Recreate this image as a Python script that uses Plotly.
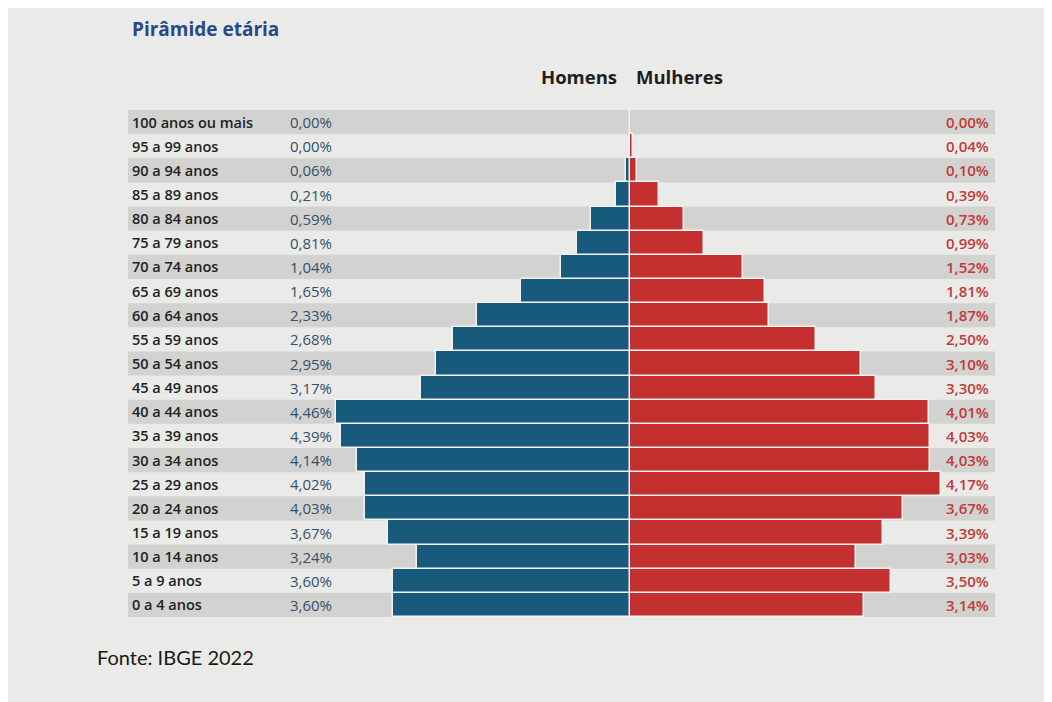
import plotly.graph_objects as go

age_groups = ["0 a 4 anos", "5 a 9 anos", "10 a 14 anos", "15 a 19 anos", "20 a 24 anos",
              "25 a 29 anos", "30 a 34 anos", "35 a 39 anos", "40 a 44 anos", "45 a 49 anos",
              "50 a 54 anos", "55 a 59 anos", "60 a 64 anos", "65 a 69 anos", "70 a 74 anos",
              "75 a 79 anos", "80 a 84 anos", "85 a 89 anos", "90 a 94 anos", "95 a 99 anos",
              "100 anos ou mais"]
homens = [3.60, 3.60, 3.24, 3.67, 4.03, 4.02, 4.14, 4.39, 4.46, 3.17,
          2.95, 2.68, 2.33, 1.65, 1.04, 0.81, 0.59, 0.21, 0.06, 0.00, 0.00]
mulheres = [3.14, 3.50, 3.03, 3.39, 3.67, 4.17, 4.03, 4.03, 4.01, 3.30,
            3.10, 2.50, 1.87, 1.81, 1.52, 0.99, 0.73, 0.39, 0.10, 0.04, 0.00]

title_text = "Pirâmide etária"
source_text = "Fonte: IBGE 2022"
series_names = ["Homens", "Mulheres"]

def fmt(v):
    return f"{v:.2f}%".replace(".", ",")

ypos = list(range(len(age_groups)))
BG = "#eaeae8"
BAND = "#d2d2d0"
MALE = "#175a7c"
FEMALE = "#c3302f"
FONT = "Open Sans"
CENTER = 0.579  # paper fraction where the two halves meet

fig = go.Figure()
fig.add_trace(go.Bar(
    y=ypos, x=[-v for v in homens], orientation="h", name=series_names[0],
    xaxis="x", yaxis="y",
    marker=dict(color=MALE, line=dict(color="#f2f2f0", width=1.5)),
    hoverinfo="skip"))
fig.add_trace(go.Bar(
    y=ypos, x=mulheres, orientation="h", name=series_names[1],
    xaxis="x2", yaxis="y",
    marker=dict(color=FEMALE, line=dict(color="#f2f2f0", width=1.5)),
    hoverinfo="skip"))

shapes = []
for i in ypos:
    if (len(age_groups) - 1 - i) % 2 == 0:
        shapes.append(dict(type="rect", xref="paper", yref="y", x0=0, x1=1,
                           y0=i - 0.5, y1=i + 0.5, fillcolor=BAND, line_width=0,
                           layer="below"))

ann = []
for i, (g, m, f) in enumerate(zip(age_groups, homens, mulheres)):
    ann.append(dict(x=0.002, xref="paper", y=i, yref="y", text=g, showarrow=False,
                    xanchor="left", yanchor="middle",
                    font=dict(family=FONT, size=14.5, color="#222222", weight=600)))
    ann.append(dict(x=0.2376, xref="paper", y=i, yref="y", text=fmt(m), showarrow=False,
                    xanchor="right", yanchor="middle",
                    font=dict(family=FONT, size=15, color="#34506a", weight=500)))
    ann.append(dict(x=0.995, xref="paper", y=i, yref="y", text=fmt(f), showarrow=False,
                    xanchor="right", yanchor="middle",
                    font=dict(family=FONT, size=15, color="#c23a3a", weight=600)))

ann.append(dict(x=0.566, xref="paper", y=1.066, yref="paper", text=series_names[0],
                showarrow=False, xanchor="right", yanchor="middle",
                font=dict(family=FONT, size=18.5, color="#1e1e1e", weight=700)))
ann.append(dict(x=0.584, xref="paper", y=1.066, yref="paper", text=series_names[1],
                showarrow=False, xanchor="left", yanchor="middle",
                font=dict(family=FONT, size=18.5, color="#1e1e1e", weight=700)))
ann.append(dict(x=0.002, xref="paper", y=1.16, yref="paper", text=title_text,
                showarrow=False, xanchor="left", yanchor="middle",
                font=dict(family=FONT, size=19, color="#2b4785", weight=700)))
ann.append(dict(x=-0.038, xref="paper", y=-0.078, yref="paper", text=source_text,
                showarrow=False, xanchor="left", yanchor="middle",
                font=dict(family="Lato", size=20, color="#1a1a1a")))

fig.update_layout(
    width=1052, height=702,
    margin=dict(l=120, r=65, t=102, b=93),
    paper_bgcolor=BG, plot_bgcolor=BG,
    barmode="overlay", bargap=0.0,
    showlegend=False,
    xaxis=dict(domain=[0, CENTER], range=[-7.62, 0], visible=False, fixedrange=True),
    xaxis2=dict(domain=[CENTER, 1], range=[0, 4.90], visible=False, fixedrange=True,
                anchor="y"),
    yaxis=dict(range=[-0.5, len(age_groups) - 0.5], visible=False, fixedrange=True),
    shapes=shapes, annotations=ann,
)

fig.write_html("out.html")
